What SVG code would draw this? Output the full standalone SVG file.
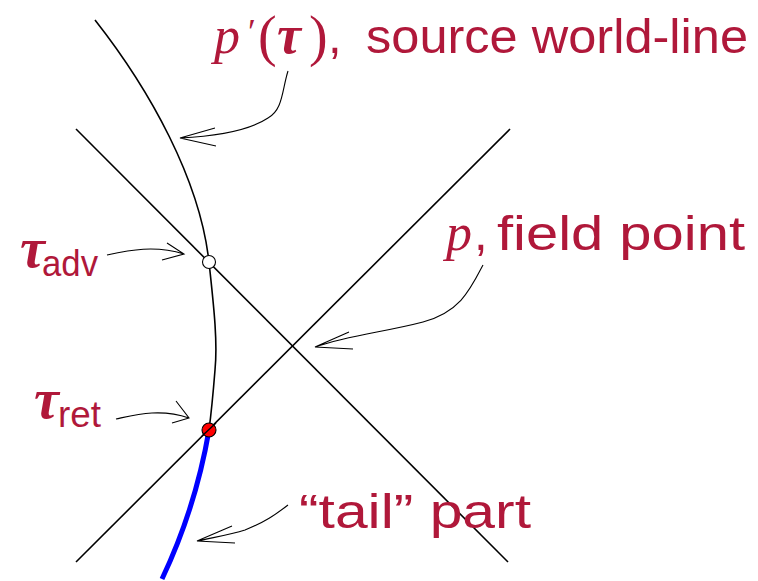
<svg xmlns="http://www.w3.org/2000/svg" width="758" height="581" viewBox="0 0 758 581">
<style>
.ln{fill:none;stroke:#000;stroke-width:1.6}
.ar{fill:none;stroke:#000;stroke-width:1.1}
.lbl{fill:#b0183a;font-family:"Liberation Sans","DejaVu Sans",sans-serif;font-size:49px}
.m{font-family:"Liberation Serif","DejaVu Serif",serif;font-style:italic}
.r{font-family:"Liberation Serif","DejaVu Serif",serif;font-style:normal}
</style>
<rect width="758" height="581" fill="#fff"/>
<g id="connectors">
<line class="ln" x1="76" y1="129" x2="508" y2="562"/>
<line class="ln" x1="76" y1="562" x2="510" y2="129"/>
<path class="ln" d="M95,20 C150,90 200,180 209,262 C213,300 218,340 215,370 C213,395 211,415 209,430"/>
<path d="M209,430 C203,465 190,520 162,579" fill="none" stroke="#0000ff" stroke-width="5"/>
<path class="ar" d="M288,71 C282,90 283,110 268,118 C250,130 220,136 180,138 M215,128 L180,138 L216,146"/>
<path class="ar" d="M107,255 C130,250 155,245 184,254 M167,243 L184,254 L162,260"/>
<path class="ar" d="M116,419 C135,415 160,408 189,418 M176,401 L189,418 L172,423"/>
<path class="ar" d="M483,265 C470,290 460,312 423,322 C385,332 350,335 315,347 M349,332 L315,347 L353,349"/>
<path class="ar" d="M288,505 C275,515 265,522 245,530 C230,535 215,537 197,541 M232,526 L197,541 L235,543"/>
</g>
<g id="adv-point"><circle cx="209" cy="262" r="6.5" fill="#fff" stroke="#000" stroke-width="1.1"/></g>
<g id="ret-point"><circle cx="209" cy="430" r="7" fill="#ff0000" stroke="#000" stroke-width="1.1"/><line x1="202" y1="436" x2="216" y2="423" stroke="#000" stroke-width="1.4"/></g>
<g id="label-source">
<text class="lbl" y="53"><tspan class="m" x="214" font-size="52">p</tspan><tspan class="r" x="248" y="44" font-size="36">′</tspan><tspan class="r" x="258" y="55" font-size="56">(</tspan><tspan class="m" x="277" y="53" font-size="54" font-weight="bold">τ</tspan><tspan class="r" x="309" y="55" font-size="56">)</tspan><tspan x="328" y="53">,</tspan><tspan x="366" textLength="382" lengthAdjust="spacingAndGlyphs">source world-line</tspan></text>
</g>
<g id="label-field">
<text class="lbl" y="250"><tspan class="m" x="446" font-size="52">p</tspan><tspan x="474">,</tspan><tspan x="497" textLength="248" lengthAdjust="spacingAndGlyphs">field point</tspan></text>
</g>
<g id="label-adv">
<text class="lbl" y="267"><tspan class="m" x="20" font-size="56" font-weight="bold">τ</tspan><tspan x="42" y="276" font-size="36" textLength="56" lengthAdjust="spacingAndGlyphs">adv</tspan></text>
</g>
<g id="label-ret">
<text class="lbl" y="418"><tspan class="m" x="34" font-size="56" font-weight="bold">τ</tspan><tspan x="58" y="427" font-size="36" textLength="43" lengthAdjust="spacingAndGlyphs">ret</tspan></text>
</g>
<g id="label-tail">
<text class="lbl" x="299" y="528" textLength="232" lengthAdjust="spacingAndGlyphs">“tail” part</text>
</g>
</svg>
